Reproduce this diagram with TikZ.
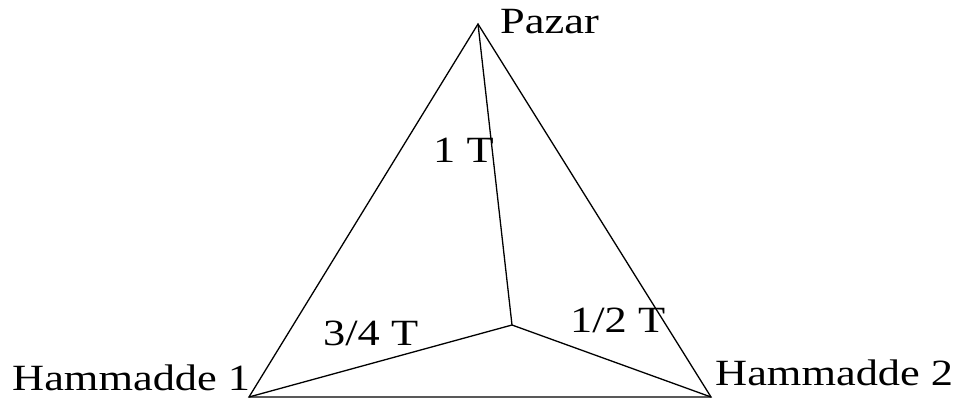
\documentclass[tikz,border=0pt]{standalone}
\usepackage{fontspec}
\setmainfont{Liberation Serif}[FakeStretch=1.2]
\begin{document}
\begin{tikzpicture}[x=1pt,y=-1pt,
  edge/.style={line width=1.3pt,black},
  lbl/.style={anchor=base west,inner sep=0pt,font=\fontsize{37}{40}\selectfont}]
\useasboundingbox (0,0) rectangle (962,399);
\coordinate (P) at (478,24);
\coordinate (H1) at (249,397);
\coordinate (H2) at (711,397);
\coordinate (M) at (512,325);
\draw[edge,line join=miter] (P) -- (H1) -- (H2) -- cycle;
\draw[edge] (P) -- (M);
\draw[edge] (H1) -- (M);
\draw[edge] (H2) -- (M);
\node[lbl] (tp) at (500,33) {Pazar};
\node[lbl] (t1) at (433,162) {1 T};
\node[lbl] (t34) at (323,345) {3/4 T};
\node[lbl] (t12) at (570,332) {1/2 T};
\node[lbl] (th1) at (12,390) {Hammadde 1};
\node[lbl] (th2) at (715,385) {Hammadde 2};
\end{tikzpicture}
\end{document}
